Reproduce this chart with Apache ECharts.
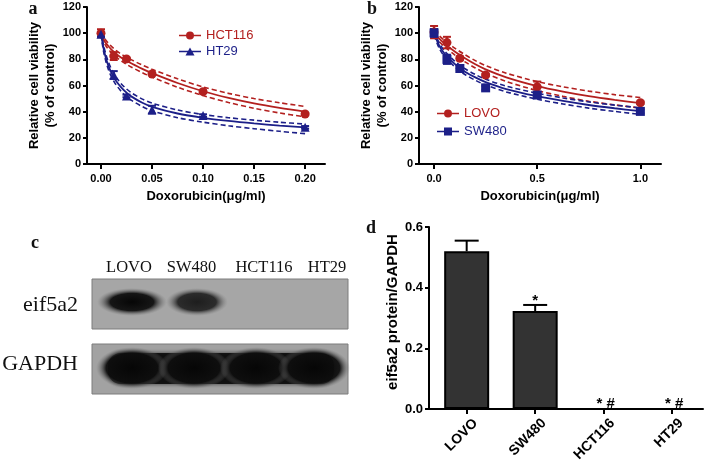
<!DOCTYPE html>
<html><head><meta charset="utf-8">
<script src="https://cdn.jsdelivr.net/npm/echarts@6/dist/echarts.min.js"></script>
<style>html,body{margin:0;padding:0;background:#fff;}#c{width:709px;height:465px;}</style>
</head><body><div id="c"></div>
<script>
// ---------- Panel a: HCT116 / HT29 ----------
const doseA = [0, 0.0125, 0.025, 0.05, 0.1, 0.2];
const hct116 = [100, 82.5, 80.3, 68.8, 55.3, 38.2];
const hct116Err = [3, 3, 1, 1, 1, 1];
const ht29 = [99.2, 68, 52, 41.5, 37, 28];
const ht29Err = [1.5, 3, 1, 3, 1, 1];
const fitDoseA = [0, 0.0025, 0.005, 0.0075, 0.01, 0.0125, 0.015, 0.02, 0.025, 0.03, 0.04, 0.05, 0.075, 0.1, 0.125, 0.15, 0.175, 0.2];
const hct116Fit = [99, 95.2, 92.2, 89.8, 87.7, 85.8, 84.1, 81.3, 78.9, 76.8, 72.9, 69.4, 61.9, 55.6, 50.5, 46.3, 42.9, 40];
const hct116Hi  = [101, 97.3, 94.4, 92.1, 90.1, 88.3, 86.6, 83.9, 81.6, 79.6, 75.8, 72.4, 65.1, 58.9, 54, 50, 46.8, 44];
const hct116Lo  = [97, 93.1, 90, 87.5, 85.3, 83.3, 81.6, 78.7, 76.2, 74, 70, 66.4, 58.7, 52.3, 47, 42.6, 39, 36];
const ht29Fit = [100, 88.5, 80.5, 74.6, 70, 66.3, 63.2, 58.3, 54.5, 51.5, 47, 43.7, 38.6, 35.3, 32.9, 31, 29.4, 28];
const ht29Hi  = [101, 90.9, 83.2, 77.5, 72.9, 69.2, 66.1, 61.2, 57.4, 54.3, 49.8, 46.5, 41.3, 37.8, 35.4, 33.5, 31.9, 30.5];
const ht29Lo  = [99, 86.1, 77.8, 71.7, 67.1, 63.4, 60.3, 55.4, 51.6, 48.6, 44.1, 40.7, 35.4, 32, 29.2, 27, 25, 23.2];
const ticksA = [0, 0.05, 0.1, 0.15, 0.2];

// ---------- Panel b: LOVO / SW480 ----------
const doseB = [0, 0.0625, 0.125, 0.25, 0.5, 1.0];
const lovo = [100.8, 92.8, 80.8, 68, 59, 46.8];
const lovoErr = [4.7, 4.4, 1.5, 1, 4, 1];
const sw480 = [100.2, 80, 73, 58.2, 52.7, 40.2];
const sw480Err = [3, 3.5, 1, 1.5, 1, 1.5];
const fitDoseB = [0, 0.025, 0.05, 0.1, 0.15, 0.2, 0.25, 0.35, 0.5, 0.625, 0.75, 0.875, 1];
const lovoFit = [100, 95.8, 92.2, 86, 80.8, 76.2, 72.3, 66.2, 59.5, 55.3, 51.8, 49, 46.6];
const lovoHi  = [102, 98, 94.6, 88.6, 83.5, 79, 75.2, 69.4, 63, 59, 55.7, 53, 50.8];
const lovoLo  = [98, 93.6, 89.8, 83.4, 78.1, 73.4, 69.4, 63.1, 56.1, 51.7, 48, 45.2, 42.8];
const sw480Fit = [100, 90.5, 84.5, 76.5, 70.6, 66.2, 62.6, 57.3, 51.8, 48.2, 45.1, 42.6, 40.4];
const sw480Hi  = [101.5, 92.5, 86.6, 78.7, 72.8, 68.4, 64.8, 59.5, 54.1, 50.5, 47.5, 45, 42.9];
const sw480Lo  = [98.5, 88.5, 82.4, 74.3, 68.4, 64, 60.4, 55.1, 49.5, 45.9, 42.7, 40.2, 37.9];
const ticksB = [0, 0.5, 1.0];

// ---------- Panel c: western blot ----------
const blotLanes = ['LOVO', 'SW480', 'HCT116', 'HT29'];
const blotRows = ['eif5a2', 'GAPDH'];
const eifBand = [1.0, 0.85, 0, 0];      // relative band darkness
const gapdhBand = [1.0, 1.0, 1.0, 1.0];

// ---------- Panel d: eif5a2 / GAPDH ----------
const cellLines = ['LOVO', 'SW480', 'HCT116', 'HT29'];
const catPos = [0, 1, 2, 3];
const ratio = [0.52, 0.323, 0, 0];
const ratioErr = [0.035, 0.02, 0, 0];
const sigMarks = ['', '*', '* #', '* #'];

const RED = '#b3201f', BLUE = '#1c1f88';
const SANS = '"Liberation Sans", Arial, sans-serif';
const SERIF = '"Liberation Serif", "Times New Roman", serif';

const chart = echarts.init(document.getElementById('c'), null, {renderer: 'canvas'});
const pair = (xs, ys) => xs.map((x, i) => [x, ys[i]]);

function axisStyle() {
  return {
    axisLine: {show: true, onZero: false, lineStyle: {color: '#000', width: 2}},
    axisTick: {show: true, inside: false, length: 4, lineStyle: {color: '#000', width: 2}},
    splitLine: {show: false}
  };
}
function errSeries(xi, xs, ys, errs, color) {
  return {
    type: 'custom', xAxisIndex: xi, yAxisIndex: xi, silent: true, z: 4,
    data: xs.map((x, i) => [x, ys[i] - errs[i], ys[i] + errs[i]]),
    encode: {x: 0, y: [1, 2]},
    renderItem: (p, api) => {
      const lo = api.coord([api.value(0), api.value(1)]);
      const hi = api.coord([api.value(0), api.value(2)]);
      const w = 4, st = {stroke: color, lineWidth: 2};
      return {type: 'group', children: [
        {type: 'line', shape: {x1: lo[0], y1: lo[1], x2: hi[0], y2: hi[1]}, style: st},
        {type: 'line', shape: {x1: lo[0] - w, y1: lo[1], x2: lo[0] + w, y2: lo[1]}, style: st},
        {type: 'line', shape: {x1: hi[0] - w, y1: hi[1], x2: hi[0] + w, y2: hi[1]}, style: st}
      ]};
    }
  };
}
function curve(xi, xs, ys, color, dashed) {
  return {
    type: 'line', xAxisIndex: xi, yAxisIndex: xi, data: pair(xs, ys), showSymbol: false, symbol: 'none',
    smooth: 0.3, silent: true, z: 3,
    lineStyle: {color: color, width: dashed ? 1.6 : 1.8, type: dashed ? [5, 3] : 'solid'}
  };
}
function points(xi, name, xs, ys, color, symbol, size) {
  return {
    type: 'scatter', name: name, xAxisIndex: xi, yAxisIndex: xi, data: pair(xs, ys),
    symbol: symbol, symbolSize: size, itemStyle: {color: color, opacity: 1}, z: 5, silent: true
  };
}
const LINE = 'M0,3.2H22V4.8H0Z';
const ICON_CIRCLE = 'path://' + LINE + ' M15,4 A4,4 0 1,1 7,4 A4,4 0 1,1 15,4Z';
const ICON_TRI = 'path://' + LINE + ' M11,0 L15.5,8 L6.5,8Z';
const ICON_SQ = 'path://' + LINE + ' M7,0H15V8H7Z';

const yTitle = 'Relative cell viability\n(% of control)';
const axisName = {color: '#000', fontFamily: SANS, fontWeight: 'bold', fontSize: 13, lineHeight: 16};
const tickLab = {color: '#000', fontFamily: SANS, fontWeight: 'bold', fontSize: 11};

// blot graphics
const blotG = [];
const boxL = 92, boxW = 256;
blotG.push({type: 'rect', shape: {x: boxL, y: 279, width: boxW, height: 50}, style: {fill: '#a6a6a6', stroke: '#7c7c7c', lineWidth: 1}, z: 1});
blotG.push({type: 'rect', shape: {x: boxL, y: 344, width: boxW, height: 50}, style: {fill: '#a2a2a2', stroke: '#7c7c7c', lineWidth: 1}, z: 1});
const laneX = [132, 194, 256, 314];
function band(cx, cy, rx, ry, dark, core) {
  const a = dark;
  return {type: 'circle', x: cx, y: cy, scaleX: rx / ry, scaleY: 1, shape: {cx: 0, cy: 0, r: ry},
    style: {fill: new echarts.graphic.RadialGradient(0.5, 0.5, 0.5, [
      {offset: 0, color: 'rgba(6,6,6,' + a + ')'},
      {offset: core, color: 'rgba(14,14,14,' + (0.95 * a) + ')'},
      {offset: 1, color: 'rgba(120,120,120,0)'}])}, z: 2};
}
eifBand.forEach((d, i) => { if (d > 0) blotG.push(band(laneX[i] + (i === 0 ? 0 : 3), 302, i === 0 ? 35 : 31, 14, d, 0.62)); });
blotG.push({type: 'rect', shape: {x: 108, y: 353, width: 226, height: 31, r: 13}, style: {fill: 'rgba(14,14,14,0.95)', shadowBlur: 4, shadowColor: 'rgba(20,20,20,0.8)'}, z: 2});
gapdhBand.forEach((d, i) => { blotG.push(band(laneX[i], 368, 36, 21, d, 0.72)); });
blotLanes.forEach((t, i) => blotG.push({type: 'text', x: [129, 191.5, 264, 327][i], y: 268, style: {text: t, font: '16.5px ' + SERIF, fill: '#111', align: 'center', verticalAlign: 'middle'}, z: 3}));
blotG.push({type: 'text', x: 78, y: 305, style: {text: blotRows[0], font: '22px ' + SERIF, fill: '#111', align: 'right', verticalAlign: 'middle'}, z: 3});
blotG.push({type: 'text', x: 78, y: 364, style: {text: blotRows[1], font: '22px ' + SERIF, fill: '#111', align: 'right', verticalAlign: 'middle'}, z: 3});
// panel letters
[['a', 33, 9], ['b', 372, 9], ['c', 35, 243], ['d', 371, 228]].forEach(l => blotG.push({
  type: 'text', x: l[1], y: l[2], style: {text: l[0], font: 'bold 18px ' + SERIF, fill: '#111', align: 'center', verticalAlign: 'middle'}, z: 3}));

const option = {
  animation: false,
  backgroundColor: '#fff',
  grid: [
    {left: 87, top: 7, width: 238, height: 157},
    {left: 419, top: 7, width: 242, height: 157},
    {left: 429, top: 227, width: 274, height: 182}
  ],
  legend: [
    {orient: 'vertical', left: 174, top: 24, itemWidth: 22, itemHeight: 8, itemGap: 3,
      textStyle: {fontFamily: SANS, fontSize: 13}, selectedMode: false,
      data: [{name: 'HCT116', icon: ICON_CIRCLE, textStyle: {color: RED}}, {name: 'HT29', icon: ICON_TRI, textStyle: {color: BLUE}}]},
    {orient: 'vertical', left: 432, top: 102, itemWidth: 22, itemHeight: 8, itemGap: 5,
      textStyle: {fontFamily: SANS, fontSize: 13}, selectedMode: false,
      data: [{name: 'LOVO', icon: ICON_CIRCLE, textStyle: {color: RED}}, {name: 'SW480', icon: ICON_SQ, textStyle: {color: BLUE}}]}
  ],
  xAxis: [
    Object.assign(axisStyle(), {type: 'value', gridIndex: 0, min: -0.0137, max: 0.2195,
      name: 'Doxorubicin(μg/ml)', nameLocation: 'middle', nameGap: 24, nameTextStyle: axisName,
      axisTick: {show: true, length: 5, lineStyle: {color: '#000', width: 2}, customValues: ticksA},
      axisLabel: Object.assign({margin: 9, customValues: ticksA, formatter: v => v.toFixed(2)}, tickLab)}),
    Object.assign(axisStyle(), {type: 'value', gridIndex: 1, min: -0.073, max: 1.1,
      name: 'Doxorubicin(μg/ml)', nameLocation: 'middle', nameGap: 24, nameTextStyle: axisName,
      axisTick: {show: true, length: 5, lineStyle: {color: '#000', width: 2}, customValues: ticksB},
      axisLabel: Object.assign({margin: 9, customValues: ticksB, formatter: v => v.toFixed(1)}, tickLab)}),
    Object.assign(axisStyle(), {type: 'value', gridIndex: 2, position: 'bottom', min: -0.55, max: 3.45,
      axisTick: {show: true, length: 5, lineStyle: {color: '#000', width: 2}, customValues: catPos},
      axisLabel: {show: false}}),
    // label-only axis for the rotated category names (shifted slightly right like the original)
    {type: 'value', gridIndex: 2, position: 'bottom', min: -0.68, max: 3.32,
      axisLine: {show: false}, axisTick: {show: false}, splitLine: {show: false},
      axisLabel: {margin: 12, rotate: 45, customValues: catPos, formatter: v => cellLines[Math.round(v)],
        color: '#000', fontFamily: SANS, fontWeight: 'bold', fontSize: 14}}
  ],
  yAxis: [
    Object.assign(axisStyle(), {type: 'value', gridIndex: 0, min: 0, max: 120, interval: 20,
      name: yTitle, nameLocation: 'middle', nameGap: 27, nameRotate: 90, nameTextStyle: axisName,
      axisLabel: Object.assign({margin: 6}, tickLab)}),
    Object.assign(axisStyle(), {type: 'value', gridIndex: 1, min: 0, max: 120, interval: 20,
      name: yTitle, nameLocation: 'middle', nameGap: 27, nameRotate: 90, nameTextStyle: axisName,
      axisLabel: Object.assign({margin: 6}, tickLab)}),
    Object.assign(axisStyle(), {type: 'value', gridIndex: 2, min: 0, max: 0.6, interval: 0.2,
      name: 'eif5a2 protein/GAPDH', nameLocation: 'middle', nameGap: 19, nameRotate: 90,
      nameTextStyle: Object.assign({}, axisName, {fontSize: 15, padding: [0, 0, 0, 12]}),
      axisLabel: {margin: 6, formatter: v => v.toFixed(1), color: '#000', fontFamily: SANS, fontWeight: 'bold', fontSize: 13}})
  ],
  series: [
    curve(0, fitDoseA, hct116Fit, RED, false), curve(0, fitDoseA, hct116Hi, RED, true), curve(0, fitDoseA, hct116Lo, RED, true),
    curve(0, fitDoseA, ht29Fit, BLUE, false), curve(0, fitDoseA, ht29Hi, BLUE, true), curve(0, fitDoseA, ht29Lo, BLUE, true),
    errSeries(0, doseA, hct116, hct116Err, RED), errSeries(0, doseA, ht29, ht29Err, BLUE),
    points(0, 'HCT116', doseA, hct116, RED, 'circle', 9), points(0, 'HT29', doseA, ht29, BLUE, 'triangle', 9),

    curve(1, fitDoseB, lovoFit, RED, false), curve(1, fitDoseB, lovoHi, RED, true), curve(1, fitDoseB, lovoLo, RED, true),
    curve(1, fitDoseB, sw480Fit, BLUE, false), curve(1, fitDoseB, sw480Hi, BLUE, true), curve(1, fitDoseB, sw480Lo, BLUE, true),
    errSeries(1, doseB, lovo, lovoErr, RED), errSeries(1, doseB, sw480, sw480Err, BLUE),
    points(1, 'LOVO', doseB, lovo, RED, 'circle', 9), points(1, 'SW480', doseB, sw480, BLUE, 'rect', 9),

    {type: 'bar', xAxisIndex: 2, yAxisIndex: 2, barWidth: 45, silent: true, z: 2,
      data: ratio.map((v, i) => [catPos[i], v]),
      itemStyle: {color: '#333333', borderColor: '#000', borderWidth: 2}},
    {type: 'custom', xAxisIndex: 2, yAxisIndex: 2, silent: true, z: 4,
      data: ratio.map((v, i) => [catPos[i], v, v + ratioErr[i]]),
      encode: {x: 0, y: [1, 2]},
      renderItem: (p, api) => {
        const i = p.dataIndex;
        const b = api.coord([api.value(0), api.value(1)]);
        const t = api.coord([api.value(0), api.value(2)]);
        const st = {stroke: '#000', lineWidth: 2};
        const ch = [];
        if (ratioErr[i] > 0) {
          ch.push({type: 'line', shape: {x1: b[0], y1: b[1], x2: t[0], y2: t[1]}, style: st});
          ch.push({type: 'line', shape: {x1: t[0] - 12, y1: t[1], x2: t[0] + 12, y2: t[1]}, style: st});
        }
        if (sigMarks[i]) ch.push({type: 'text', x: t[0] + (ratioErr[i] > 0 ? 0 : 2), y: t[1] + (ratioErr[i] > 0 ? 3 : 2),
          style: {text: sigMarks[i], font: 'bold 15px ' + SANS, fill: '#000', align: 'center', verticalAlign: 'bottom'}});
        return {type: 'group', children: ch};
      }}
  ],
  graphic: {elements: blotG}
};
chart.setOption(option);
</script></body></html>
